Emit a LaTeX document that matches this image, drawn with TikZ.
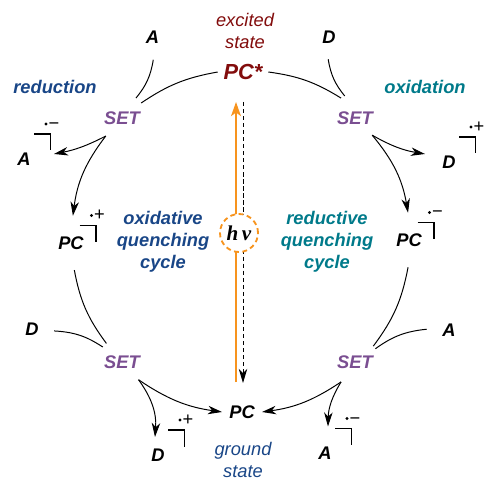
\documentclass[tikz,border=0pt]{standalone}
\usepackage{fontspec}
\setmainfont{Liberation Sans}
\newfontfamily\serif{Liberation Serif}
\usetikzlibrary{arrows.meta, calc}

\definecolor{exred}{RGB}{130,12,12}
\definecolor{navy}{RGB}{25,70,135}
\definecolor{cycteal}{RGB}{0,122,138}
\definecolor{setpurple}{RGB}{122,78,145}
\definecolor{lamp}{RGB}{247,148,30}

\begin{document}
\begin{tikzpicture}[x=0.025cm, y=0.025cm,
  every node/.style={font=\fontsize{13}{15.6}\selectfont\bfseries\itshape, inner sep=0pt},
  setnode/.style={circle, minimum size=1.2cm, text=setpurple},
  reac/.style={circle, minimum size=1.1cm},
  pcnode/.style={circle, minimum size=1.35cm},
  arc/.style={line width=0.7pt},
  arr/.style={arc, -{Stealth[length=10pt, width=6pt, inset=3pt]}},
  note/.style={align=center, font=\fontsize{13}{15.6}\selectfont\itshape}]
  \useasboundingbox (0,0) rectangle (484,480);
  % states
  \node[note, text=exred] (exc) at (245,449) {excited\\state};
  \node[text=exred, font=\fontsize{15.5}{18}\selectfont\bfseries\itshape, inner xsep=4pt] (pcs) at (243,408) {PC*};
  \node[note, text=navy] (gnd) at (243,20) {ground\\state};
  \node[inner xsep=5pt] (pc) at (242,68) {PC};
  % electron transfers
  \foreach \n/\x/\y in {setTL/122/362, setTR/355/362, setBL/122/118, setBR/355/118}
    \node[setnode] (\n) at (\x,\y) {SET};
  \node[text=navy] (red) at (55,393) {reduction};
  \node[text=cycteal] (oxi) at (425,393) {oxidation};
  % acceptor and donor
  \node[reac] (accT) at (152.5,442.5) {A};
  \node[reac] (donT) at (329,443) {D};
  \node[reac] (donL) at (32,151) {D};
  \node[reac] (accR) at (449,150) {A};
  % radical ions
  \node (aneg1) at (24,321) {A};
  \node (dpos1) at (449,318) {D};
  \node (dpos2) at (158,25) {D};
  \node (aneg2) at (325,26.5) {A};
  \node[pcnode] (pcox) at (71,237) {PC};
  \node[pcnode] (pcred) at (409,240) {PC};
  \foreach \n/\s/\dx/\dy in {aneg1/−/0/0, dpos1/+/0/0, dpos2/+/0/0, aneg2/−/0/0, pcox/+/-1.5/-7.5, pcred/−/-1.5/-7.5} {
    \draw[line width=0.9pt] ($(\n)+(\dx,\dy)+(10,25)$) -| ($(\n)+(\dx,\dy)+(26.5,8.5)$);
    \fill ($(\n)+(\dx,\dy)+(22,35)$) circle (1.6);
    \node[font=\fontsize{13}{15}\selectfont, anchor=base] (\n-sign) at ($(\n)+(\dx,\dy)+(30,29.5)$) {\s};
  }
  % cycle names
  \node[text=navy, align=center] (oqc) at (163,238) {oxidative\\quenching\\cycle};
  \node[text=cycteal, align=center] (rqc) at (327,238) {reductive\\quenching\\cycle};
  % oxidative quenching cycle
  \draw[arc] (pcs.west) to[bend right=12] (setTL.38);
  \draw[arc] (accT.-88) to[bend left=15] (setTL.55);
  \draw[arr] (setTL.-132) to[bend left=8] ($(aneg1)+(30,5)$);
  \draw[arr] (setTL.-132) to[bend right=15] (pcox.86);
  \draw[arc] (pcox.-83) to[bend right=13] (setBL.130);
  \draw[arc] (donL.-5) to[bend left=15] (setBL.142);
  \draw[arr] (setBL.-47) to[bend left=20] ($(dpos2)+(-3,18)$);
  \draw[arr] (setBL.-47) to[bend right=13] (pc.west);
  % reductive quenching cycle
  \draw[arc] (pcs.east) to[bend left=12] (setTR.125);
  \draw[arc] (donT.-92) to[bend right=15] (setTR.115);
  \draw[arr] (setTR.-45) to[bend right=10] ($(dpos1)+(-24,8)$);
  \draw[arr] (setTR.-45) to[bend left=15] (pcred.92);
  \draw[arc] (pcred.-92) to[bend left=13] (setBR.41);
  \draw[arc] (accR.178) to[bend right=15] (setBR.33);
  \draw[arr] (setBR.-125) to[bend left=13] (pc.east);
  \draw[arr] (setBR.-125) to[bend right=15] ($(aneg2)+(3,27)$);
  % excitation
  \draw[lamp, line width=1.4pt, -{Stealth[length=10pt, width=7pt, inset=2.5pt]}] ($(pc)+(-6,30)$) -- ($(pcs)+(-7,-30)$);
  \draw[arr, dash pattern=on 3pt off 2pt] ($(pcs)+(0,-30)$) -- ($(pc)+(1,29)$);
  \node[circle, draw=lamp, fill=white, dash pattern=on 3.5pt off 2.5pt, line width=1.3pt, minimum size=0.95cm,
    font=\serif\bfseries\itshape\fontsize{15}{18}\selectfont] (hv) at (239,247) {h\,ν};
\end{tikzpicture}
\end{document}
